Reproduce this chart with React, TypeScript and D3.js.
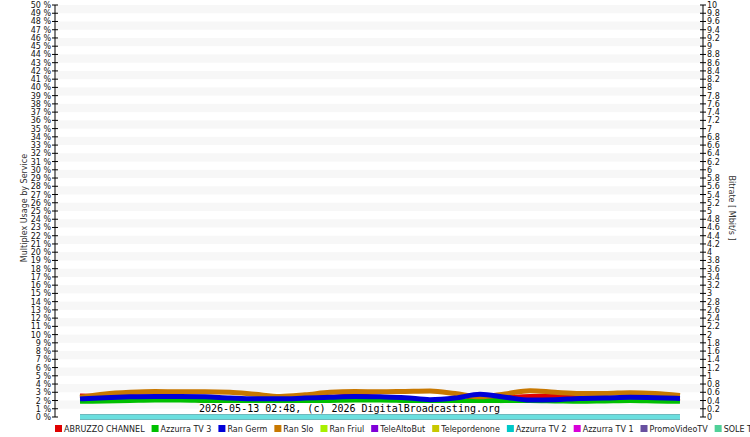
import * as d3 from 'd3';
import { useMemo } from 'react';

// services, in legend order
const services = [
    'ABRUZZO CHANNEL', 'Azzurra TV 3', 'Ran Germ', 'Ran Slo', 'Ran Friul', 'TeleAltoBut',
    'Telepordenone', 'Azzurra TV 2', 'Azzurra TV 1', 'PromoVideoTV', 'SOLE TV',
];
const colors = [
    '#e00000', '#00c000', '#0000d8', '#c87800', '#a8f000', '#8000d8',
    '#c8c800', '#00c8c8', '#d800d8', '#6850a0', '#50d098',
];

// usage in % of the multiplex, one value per sample
const abruzzo = [2.55, 2.5, 2.45, 2.4, 2.3, 2.0, 1.75, 1.9, 2.2, 2.35, 2.4, 2.55, 2.35, 2.0, 1.7, 1.8, 2.2, 2.35, 2.5, 2.55, 2.3, 2.1, 2.0, 2.1, 2.3];
const azzurra3 = [1.9, 1.95, 2.0, 2.05, 2.05, 2.0, 1.95, 1.9, 1.9, 1.95, 2.0, 2.05, 2.05, 2.0, 1.95, 1.9, 1.95, 2.0, 2.0, 1.95, 1.9, 1.95, 2.0, 1.95, 1.9];
const ranGerm = [2.2, 2.35, 2.45, 2.5, 2.5, 2.45, 2.3, 2.2, 2.2, 2.3, 2.4, 2.5, 2.45, 2.35, 2.1, 2.3, 2.75, 2.4, 2.05, 2.1, 2.25, 2.3, 2.4, 2.35, 2.25];
const ranSlo = [2.4, 2.8, 3.0, 3.1, 3.05, 3.05, 3.0, 2.75, 2.5, 2.7, 3.0, 3.1, 3.05, 3.1, 3.15, 2.85, 2.45, 2.8, 3.2, 3.0, 2.85, 2.85, 2.95, 2.85, 2.6];
const zeroLine = [0, 0, 0, 0, 0, 0, 0, 0, 0, 0, 0, 0, 0, 0, 0, 0, 0, 0, 0, 0, 0, 0, 0, 0, 0];

const seriesValues: Record<string, number[]> = {
    'ABRUZZO CHANNEL': abruzzo,
    'Azzurra TV 3': azzurra3,
    'Ran Germ': ranGerm,
    'Ran Slo': ranSlo,
    'Ran Friul': zeroLine,
    'TeleAltoBut': zeroLine,
    'Telepordenone': zeroLine,
    'Azzurra TV 1': zeroLine,
    'PromoVideoTV': zeroLine,
    'SOLE TV': zeroLine,
    'Azzurra TV 2': zeroLine,
};
// drawing order (last on top)
const drawOrder = [
    'Ran Friul', 'TeleAltoBut', 'Telepordenone', 'Azzurra TV 1', 'PromoVideoTV', 'SOLE TV', 'Azzurra TV 2',
    'ABRUZZO CHANNEL', 'Azzurra TV 3', 'Ran Slo', 'Ran Germ',
];

const percentTicks = d3.range(0, 51, 1);
const mbitTicks = d3.range(0, 51, 1).map((i) => i / 5);
const stamp = '2026-05-13 02:48, (c) 2026 DigitalBroadcasting.org';

const FONT = "'DejaVu Sans', sans-serif";

export default function App() {
    const width = 750;
    const height = 437;
    const axisLeft = 55;
    const axisRight = 703;
    const top = 5;
    const bottom = 417;

    const y = d3.scaleLinear().domain([0, 50]).range([bottom, top]);
    const yRight = d3.scaleLinear().domain([0, 10]).range([bottom, top]);
    const x = d3.scaleLinear().domain([0, abruzzo.length - 1]).range([80, 680]);

    const line = d3
        .line<number>()
        .x((_, i) => x(i))
        .y((d) => y(d))
        .curve(d3.curveMonotoneX);

    // legend layout from measured text widths
    const legend = useMemo(() => {
        const ctx = document.createElement('canvas').getContext('2d')!;
        ctx.font = `8px ${FONT}`;
        let pos = 55;
        return services.map((s, i) => {
            const item = { name: s, color: colors[i], x: pos };
            pos += 9 + ctx.measureText(s).width + 7;
            return item;
        });
    }, []);

    const bands = d3.range(1, 50, 2);

    // the flat line at 0 is drawn a bit paler, as in the original
    const strokeFor = (name: string) => {
        const c = colors[services.indexOf(name)];
        return name === 'Azzurra TV 2' ? d3.interpolateRgb(c, '#ffffff')(0.42) : c;
    };

    return (
        <svg width={width} height={height} style={{ position: 'fixed', left: 0, top: 0, background: '#fff' }} fontFamily={FONT}>
            {/* alternating grid bands */}
            {bands.map((b) => (
                <rect key={b} x={axisLeft + 1} width={axisRight - axisLeft - 1} y={y(b + 1)} height={y(b) - y(b + 1)} fill="#f7f7f7" />
            ))}

            {/* lines */}
            {drawOrder.map((name) => (
                <path
                    key={name}
                    d={line(seriesValues[name]) ?? ''}
                    fill="none"
                    stroke={strokeFor(name)}
                    strokeWidth={5}
                />
            ))}

            {/* timestamp */}
            <rect x={199} y={403} width={stamp.length * 6.02} height={11} fill="#fff" />
            <text x={199} y={412} fontFamily="'DejaVu Sans Mono', monospace" fontSize={10} fill="#000">
                {stamp}
            </text>

            {/* left axis */}
            <line x1={axisLeft} x2={axisLeft} y1={top} y2={bottom} stroke="#000" />
            {percentTicks.map((t) => (
                <g key={t}>
                    <line x1={axisLeft - 3} x2={axisLeft + 3} y1={y(t)} y2={y(t)} stroke="#000" />
                    <text x={axisLeft - 4} y={y(t) + 3} fontSize={8} textAnchor="end" fill="#111">
                        {t} %
                    </text>
                </g>
            ))}
            <text transform={`translate(27,${(top + bottom) / 2 - 3}) rotate(-90)`} fontSize={8} textAnchor="middle" fill="#333">
                Multiplex Usage by Service
            </text>

            {/* right axis */}
            <line x1={axisRight} x2={axisRight} y1={top} y2={bottom} stroke="#000" />
            {mbitTicks.map((t) => (
                <g key={t}>
                    <line x1={axisRight - 3} x2={axisRight + 3} y1={yRight(t)} y2={yRight(t)} stroke="#000" />
                    <text x={axisRight + 4} y={yRight(t) + 3} fontSize={8} fill="#111">
                        {d3.format('~g')(t)}
                    </text>
                </g>
            ))}
            <text transform={`translate(729,${(top + bottom) / 2 - 3}) rotate(90)`} fontSize={8} textAnchor="middle" fill="#333">
                Bitrate [ Mbit/s ]
            </text>

            {/* legend */}
            {legend.map((l) => (
                <g key={l.name}>
                    <rect x={l.x} y={425} width={7} height={7} fill={l.color} />
                    <text x={l.x + 9} y={432} fontSize={8} fill="#222">
                        {l.name}
                    </text>
                </g>
            ))}
        </svg>
    );
}
